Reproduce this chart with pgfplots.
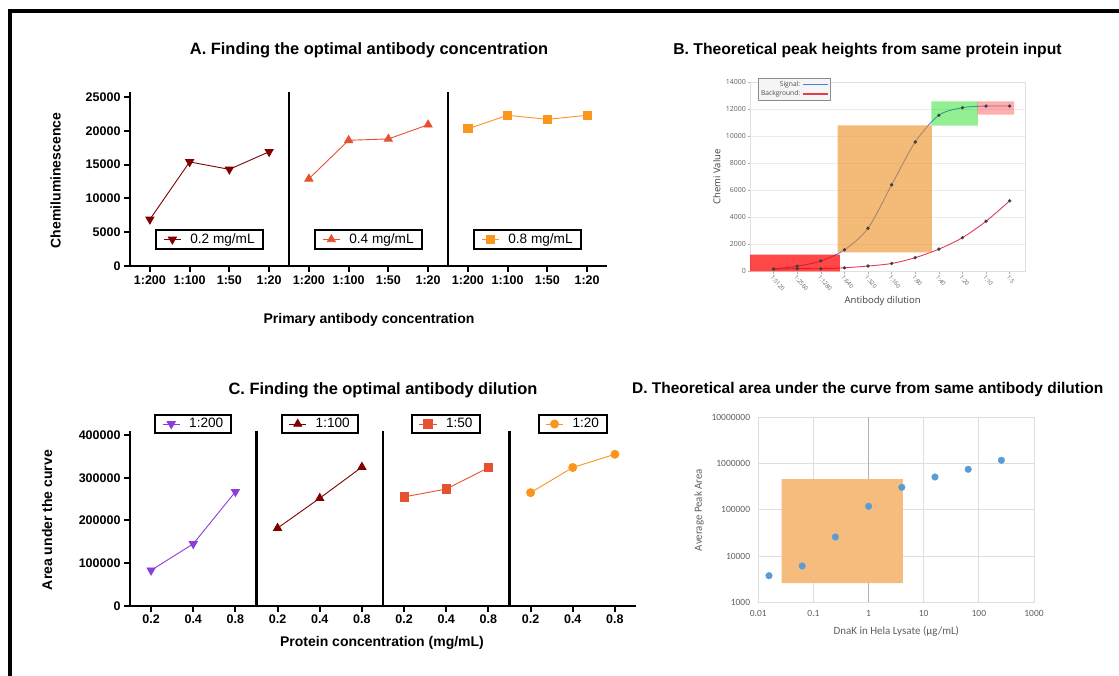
\documentclass[border=0pt]{standalone}
\usepackage{fontspec}
\setmainfont{Liberation Sans}
\newfontfamily\openf{Open Sans}
\newfontfamily\calib{Carlito}
\usepackage{pgfplots}
\pgfplotsset{compat=1.18}

\definecolor{cMar}{RGB}{128,0,0}
\definecolor{cRed}{RGB}{230,82,48}
\definecolor{cOra}{RGB}{250,150,30}
\definecolor{cPur}{RGB}{140,62,220}
\definecolor{sigblue}{RGB}{70,125,230}
\definecolor{bgred}{RGB}{225,60,85}
\definecolor{dblue}{RGB}{91,155,213}
\definecolor{gtext}{RGB}{95,95,95}
\definecolor{rectO}{RGB}{235,140,30}
\definecolor{rectD}{RGB}{245,188,125}

\pgfplotsset{
  gp/.style={scale only axis, enlargelimits=false, clip=false,
    axis x line*=bottom, axis y line*=left,
    axis line style={-, line width=2.3pt},
    every tick/.style={black, line width=2pt},
    major tick length=6pt, tick align=outside,
    ticklabel style={font=\bfseries\fontsize{12.5}{14}\selectfont},
    /pgf/number format/assume math mode=true,
    /pgf/number format/1000 sep={},
    scaled y ticks=false,
    legend style={draw=black, line width=2pt, font=\fontsize{13.6}{15}\selectfont, anchor=center,
      inner xsep=7pt, inner ysep=2.8pt, nodes={inner sep=1pt},
      /tikz/every odd column/.append style={column sep=8pt}},
    legend image post style={line width=0.9pt},
  },
  gpA/.style={gp, width=159pt, height=173.7pt, xmin=-0.5, xmax=3.5, ymin=0, ymax=25700,
    xtick={0,1,2,3}, xticklabels={1:200,1:100,1:50,1:20},
    ytick={0,5000,10000,15000,20000,25000}, yticklabels={0,5000,10000,15000,20000,25000},
    legend style={at={(0.5,0.153)}}},
  gpC/.style={gp, width=126.5pt, height=174.9pt, xmin=-0.5, xmax=2.5, ymin=0, ymax=410000,
    xtick={0,1,2}, xticklabels={0.2,0.4,0.8},
    ytick={0,100000,200000,300000,400000}, yticklabels={0,100000,200000,300000,400000},
    legend style={at={(0.5,1.039)}}},
  noy/.style={ytick=\empty, yticklabels={}},
  dl/.style={line width=0.9pt},
}

\begin{document}
\begin{tikzpicture}[x=1pt,y=1pt]
\useasboundingbox (0,0) rectangle (1119,675);
\fill[white] (0,0) rectangle (1119,675);
\draw[line width=4pt] (9.7,-10) -- (9.7,664.2) -- (1130,664.2);

% titles
\node[anchor=base, font=\bfseries\fontsize{16.4}{19}\selectfont] at (369,620) {A. Finding the optimal antibody concentration};
\node[anchor=base, font=\bfseries\fontsize{15.7}{19}\selectfont] at (867.5,620) {B. Theoretical peak heights from same protein input};
\node[anchor=base, font=\bfseries\fontsize{16.4}{19}\selectfont] at (383,280) {C. Finding the optimal antibody dilution};
\node[anchor=base, font=\bfseries\fontsize{15.5}{19}\selectfont] at (867.7,281.7) {D. Theoretical area under the curve from same antibody dilution};

% axis labels A and C
\node[rotate=90, font=\bfseries\fontsize{14}{16}\selectfont] at (55.5,494.5) {Chemiluminescence};
\node[font=\bfseries\fontsize{14}{16}\selectfont] at (369,355) {Primary antibody concentration};
\node[rotate=90, font=\bfseries\fontsize{14}{16}\selectfont] at (47,155) {Area under the curve};
\node[font=\bfseries\fontsize{14}{16}\selectfont] at (382,32) {Protein concentration (mg/mL)};

% ---------------- Panel A ----------------
\begin{axis}[gpA, at={(130pt,409pt)}]
\addplot[cMar, dl, mark=triangle*, mark size=4.6pt, mark options={rotate=180, fill=cMar}] coordinates {(0,6900)(1,15400)(2,14300)(3,16900)};
\addlegendentry{0.2 mg/mL}
\end{axis}
\begin{axis}[gpA, noy, at={(289pt,409pt)}]
\addplot[cRed, dl, mark=triangle*, mark size=4.6pt, mark options={fill=cRed}] coordinates {(0,12900)(1,18600)(2,18800)(3,20900)};
\addlegendentry{0.4 mg/mL}
\end{axis}
\begin{axis}[gpA, noy, at={(448pt,409pt)}]
\addplot[cOra, dl, mark=square*, mark size=4.1pt, mark options={fill=cOra}] coordinates {(0,20300)(1,22300)(2,21700)(3,22300)};
\addlegendentry{0.8 mg/mL}
\end{axis}

% ---------------- Panel C ----------------
\begin{axis}[gpC, at={(130pt,69.3pt)}]
\addplot[cPur, dl, mark=triangle*, mark size=4.6pt, mark options={rotate=180, fill=cPur}] coordinates {(0,83000)(1,145000)(2,267000)};
\addlegendentry{1:200}
\end{axis}
\begin{axis}[gpC, noy, at={(256.5pt,69.3pt)}]
\addplot[cMar, dl, mark=triangle*, mark size=4.6pt, mark options={fill=cMar}] coordinates {(0,182000)(1,252000)(2,325000)};
\addlegendentry{1:100}
\end{axis}
\begin{axis}[gpC, noy, at={(383pt,69.3pt)}]
\addplot[cRed, dl, mark=square*, mark size=4.1pt, mark options={fill=cRed}] coordinates {(0,255000)(1,273500)(2,323500)};
\addlegendentry{1:50}
\end{axis}
\begin{axis}[gpC, noy, at={(509.5pt,69.3pt)}]
\addplot[cOra, dl, mark=*, mark size=4pt, mark options={fill=cOra}] coordinates {(0,265000)(1,324000)(2,355000)};
\addlegendentry{1:20}
\end{axis}

% ---------------- Panel B ----------------
\begin{axis}[scale only axis, at={(750pt,403.7pt)}, width=275pt, height=189pt,
  xmin=-1, xmax=10.65, ymin=0, ymax=14000, enlargelimits=false,
  scaled y ticks=false,
  axis line style={draw=black!12, line width=0.8pt},
  ymajorgrids, grid style={draw=black!8, line width=0.8pt},
  ytick={0,2000,4000,6000,8000,10000,12000,14000}, yticklabels={0,2000,4000,6000,8000,10000,12000,14000},
  xtick={0,...,10}, xticklabels={1:5120,1:2560,1:1280,1:640,1:320,1:160,1:80,1:40,1:20,1:10,1:5},
  tick pos=left, tick align=outside, major tick length=2.5pt,
  every tick/.style={draw=black!30, line width=0.6pt},
  yticklabel style={font=\openf\fontsize{7}{8}\selectfont, text=gtext, inner sep=1.5pt},
  xticklabel style={rotate=-50, anchor=north west, font=\openf\fontsize{5.8}{6}\selectfont, text=gtext, inner sep=0.5pt},
  xlabel={Antibody dilution}, ylabel={Chemi Value},
  xlabel style={at={(axis description cs:0.4825,-0.156)}, anchor=center, font=\openf\fontsize{9.5}{11}\selectfont, text=black!75},
  ylabel style={at={(axis description cs:-0.121,0.5)}, anchor=center, font=\openf\fontsize{9.5}{11}\selectfont, text=black!75},
  legend style={at={(axis description cs:0.028,1.024)}, anchor=north west, fill=black!4, draw=black!45, line width=0.6pt,
    font=\openf\fontsize{6.7}{7.5}\selectfont, text=black!70, inner sep=1pt, row sep=-1pt},
  legend cell align=right, legend plot pos=right,
  legend image code/.code={\draw[#1, line width=1.3pt] (0,0) -- (0.9cm,0);},
  ]
\addlegendimage{sigblue}
\addlegendentry{Signal:}
\addlegendimage{bgred}
\addlegendentry{Background:}
\addplot[forget plot, sigblue, line width=0.9pt, smooth, mark=*, mark size=1.2pt, mark options={draw=black!75, fill=black!75}]
  coordinates {(0,170)(1,380)(2,765)(3,1590)(4,3190)(5,6400)(6,9580)(7,11560)(8,12120)(9,12240)(10,12240)};
\addplot[forget plot, bgred, line width=0.9pt, smooth, mark=*, mark size=1.2pt, mark options={draw=black!75, fill=black!75}]
  coordinates {(0,150)(1,200)(2,190)(3,260)(4,390)(5,580)(6,1010)(7,1640)(8,2490)(9,3710)(10,5220)};
% highlight regions
\addplot[forget plot, draw=none, fill=red, fill opacity=0.72] coordinates {(-1,0)(2.81,0)(2.81,1230)(-1,1230)(-1,0)};
\addplot[forget plot, draw=none, fill=rectO, fill opacity=0.6] coordinates {(2.71,1410)(6.70,1410)(6.70,10815)(2.71,10815)(2.71,1410)};
\addplot[forget plot, draw=none, fill=green!85!black, fill opacity=0.42] coordinates {(6.68,10790)(8.65,10790)(8.65,12590)(6.68,12590)(6.68,10790)};
\addplot[forget plot, draw=none, fill=red!75, fill opacity=0.42] coordinates {(8.63,11600)(10.19,11600)(10.19,12590)(8.63,12590)(8.63,11600)};
\end{axis}

% ---------------- Panel D ----------------
\begin{axis}[scale only axis, at={(758.3pt,72.7pt)}, width=275.7pt, height=185pt,
  xmode=log, ymode=log, xmin=0.01, xmax=1000, ymin=1000, ymax=10000000,
  axis line style={draw=black!13, line width=0.8pt},
  grid=major, grid style={draw=black!13, line width=0.8pt},
  xtick={0.01,0.1,1,10,100,1000}, xticklabels={0.01,0.1,1,10,100,1000},
  ytick={1000,10000,100000,1000000,10000000}, yticklabels={1000,10000,100000,1000000,10000000},
  extra x ticks={1}, extra x tick labels={}, extra x tick style={grid style={draw=black!30, line width=0.8pt}},
  major tick length=0pt, minor tick length=0pt, minor tick num=0,
  every tick/.style={draw=none},
  ticklabel style={font=\calib\fontsize{9.5}{11}\selectfont, text=gtext},
  yticklabel style={inner sep=0pt, xshift=-8pt},
  xticklabel style={inner sep=0pt, yshift=-8pt},
  xlabel={DnaK in Hela Lysate (µg/mL)}, ylabel={Average Peak Area},
  xlabel style={at={(axis description cs:0.5005,-0.155)}, anchor=center, font=\calib\fontsize{11}{13}\selectfont, text=gtext},
  ylabel style={at={(axis description cs:-0.215,0.499)}, anchor=center, font=\calib\fontsize{10.9}{13}\selectfont, text=gtext},
  ]
\addplot[draw=none, fill=rectD] coordinates {(0.0265,2610)(4.17,2610)(4.17,463000)(0.0265,463000)(0.0265,2610)};
\addplot[only marks, mark=*, mark size=3.3pt, color=dblue, mark options={fill=dblue, draw=dblue}]
  coordinates {(0.015625,3760)(0.0625,6100)(0.25,25800)(1,119000)(4,306000)(16,512000)(64,751000)(256,1175000)};
\end{axis}
\end{tikzpicture}
\end{document}
